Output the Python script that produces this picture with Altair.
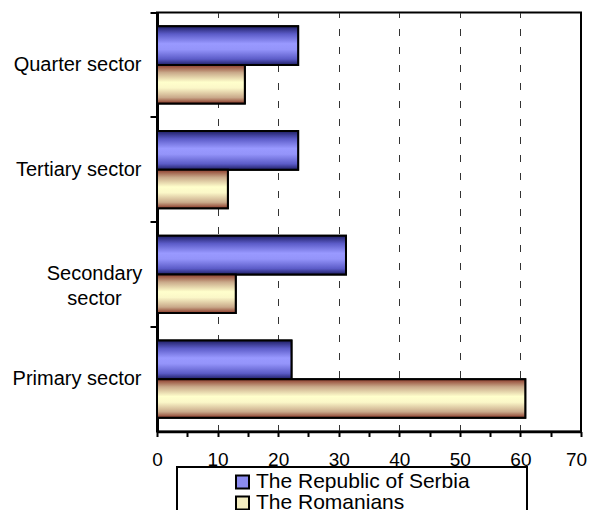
import altair as alt
import pandas as pd

# ---------------- data ----------------
sectors = ["Quarter sector", "Tertiary sector", "Secondary sector", "Primary sector"]
series_names = ["The Republic of Serbia", "The Romanians"]
serbia = [23.3, 23.3, 31.2, 22.2]
romanians = [14.5, 11.7, 13.0, 60.8]
x_ticks = [0, 5, 10, 15, 20, 25, 30, 35, 40, 45, 50, 55, 60, 65, 70]
x_domain = [0, 70]

rows = []
for s, a, b in zip(sectors, serbia, romanians):
    rows.append({"sector": s, "series": series_names[0], "value": a})
    rows.append({"sector": s, "series": series_names[1], "value": b})
df = pd.DataFrame(rows)

FONT = "Liberation Sans"

blue_grad = alt.Gradient(
    gradient="linear", x1=0, x2=0, y1=0, y2=1,
    stops=[
        alt.GradientStop(color="#1f1f66", offset=0),
        alt.GradientStop(color="#5c5cc8", offset=0.2),
        alt.GradientStop(color="#9999ff", offset=0.45),
        alt.GradientStop(color="#9494fa", offset=0.6),
        alt.GradientStop(color="#5c5cc8", offset=0.85),
        alt.GradientStop(color="#1f1f66", offset=1),
    ],
)
yellow_grad = alt.Gradient(
    gradient="linear", x1=0, x2=0, y1=0, y2=1,
    stops=[
        alt.GradientStop(color="#8b3a2a", offset=0),
        alt.GradientStop(color="#c9a98a", offset=0.2),
        alt.GradientStop(color="#ffffcc", offset=0.45),
        alt.GradientStop(color="#fbf7c8", offset=0.6),
        alt.GradientStop(color="#c9a98a", offset=0.85),
        alt.GradientStop(color="#8b3a2a", offset=1),
    ],
)

is_sec = "datum.value == 'Secondary sector'"

x_enc = alt.X(
    "value:Q",
    scale=alt.Scale(domain=x_domain, nice=False, zero=True),
    axis=alt.Axis(
        title=None, values=x_ticks,
        labelExpr="datum.value % 10 == 0 ? datum.label : ''",
        labelFont=FONT, labelFontSize=19, labelColor="black",
        labelPadding=14, labelFlush=False, labelOverlap=False,
        labelOffset={"condition": {"test": "datum.value == 70", "value": -5}, "value": 0},
        domainColor="black", domainWidth=2.5,
        tickColor="black", tickSize=5, tickWidth=2,
        grid=True, gridColor="#333333", gridDash=[7, 11], gridWidth=1,
        gridOpacity={"condition": {"test": "datum.value % 10 != 0 || datum.value == 0 || datum.value == 70", "value": 0}, "value": 1},
    ),
)
y_enc = alt.Y(
    "sector:N", sort=sectors,
    scale=alt.Scale(domain=sectors, paddingInner=0, paddingOuter=0),
    axis=alt.Axis(
        title=None, bandPosition=0,
        labelExpr="datum.value == 'Secondary sector' ? ['Secondary', 'sector'] : datum.label",
        labelFont=FONT, labelFontSize=20, labelColor="black", labelLimit=300,
        labelLineHeight=25,
        labelAlign={"condition": {"test": is_sec, "value": "center"}, "value": "right"},
        labelPadding={"condition": {"test": is_sec, "value": 56}, "value": 9},
        domainColor="black", domainWidth=3,
        tickColor="black", tickSize=7, tickWidth=2, grid=False,
    ),
)
yoff_enc = alt.YOffset(
    "series:N", sort=series_names,
    scale=alt.Scale(domain=series_names, paddingInner=0, paddingOuter=0.36),
)

base = alt.Chart(df)

color_layer = base.mark_bar(stroke="black", strokeWidth=2).encode(
    x=x_enc, y=y_enc, yOffset=yoff_enc,
    color=alt.Color(
        "series:N",
        scale=alt.Scale(domain=series_names, range=["#8c8cf0", "#f3edc0"]),
        legend=alt.Legend(
            title=None, orient="none", legendX=75, legendY=459,
            labelFont=FONT, labelFontSize=21, labelColor="black", labelLimit=400,
            symbolType="square", symbolSize=169, symbolStrokeColor="black",
            symbolStrokeWidth=2, labelOffset=3, rowPadding=-3, padding=0,
        ),
    ),
)

serbia_layer = base.transform_filter(
    alt.datum.series == series_names[0]
).mark_bar(fill=blue_grad, stroke="black", strokeWidth=2).encode(
    x=x_enc, y=y_enc, yOffset=yoff_enc
)
rom_layer = base.transform_filter(
    alt.datum.series == series_names[1]
).mark_bar(fill=yellow_grad, stroke="black", strokeWidth=2).encode(
    x=x_enc, y=y_enc, yOffset=yoff_enc
)

legend_box = alt.Chart(alt.Data(values=[{"k": 1}])).mark_rect(
    fill="transparent", stroke="black", strokeWidth=2
).encode(
    x=alt.value(20), x2=alt.value(370), y=alt.value(454.5), y2=alt.value(530)
)

chart = alt.layer(color_layer, serbia_layer, rom_layer, legend_box).properties(
    width=424, height=419,
    autosize=alt.AutoSizeParams(type="none"),
    padding={"left": 149, "top": 4.5, "right": 6, "bottom": 78.5},
).configure(font=FONT).configure_view(
    stroke="black", strokeWidth=2
)

chart.save("out.html", embed_options={"renderer": "svg", "actions": False})
